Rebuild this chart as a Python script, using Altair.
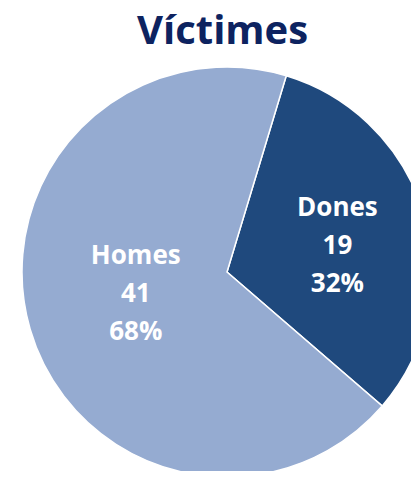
import altair as alt
import pandas as pd
import math

categories = ["Dones", "Homes"]
counts = [19, 41]
percents = ["32%", "68%"]
colors = ["#1f497d", "#95abd1"]

df = pd.DataFrame({
    "cat": categories,
    "n": counts,
    "label": [f"{c}\n{n}\n{p}" for c, n, p in zip(categories, counts, percents)],
})

start = math.radians(16.8)
TOP = 60
W, H = 403, 463 - TOP
cx, cy = 227 - 8, 272 - 8 - TOP

theta_scale = alt.Scale(range=[start, start + 2 * math.pi])

base = alt.Chart(df).encode(
    theta=alt.Theta("n:Q", stack=True, scale=theta_scale),
    order=alt.Order("cat:N"),
)

arcs = base.mark_arc(outerRadius=205, stroke="white", strokeWidth=1.5).encode(
    x=alt.value(cx), y=alt.value(cy),
    color=alt.Color("cat:N", scale=alt.Scale(domain=categories, range=colors), legend=None),
)

label_style = {"Dones": (115, -32), "Homes": (95, -43)}
label_layers = []
for cat in categories:
    r, dy = label_style[cat]
    label_layers.append(
        base.mark_text(
            radius=r, font="Open Sans", fontSize=26, fontWeight="bold",
            color="white", lineBreak="\n", lineHeight=38, align="center",
            baseline="middle", dy=dy,
        ).encode(
            x=alt.value(cx), y=alt.value(cy),
            text="label:N",
            opacity=alt.condition(alt.datum.cat == cat, alt.value(1), alt.value(0)),
        )
    )

chart = alt.layer(arcs, *label_layers).properties(
    width=W, height=H,
    autosize=alt.AutoSizeParams(type="none"),
    padding={"left": 0, "right": 0, "top": TOP, "bottom": 0},
    title=alt.TitleParams("Víctimes", font="Open Sans", fontSize=40, fontWeight="bold",
                          color="#0d2360", anchor="start", frame="group", dx=129,
                          offset=12),
).configure_view(stroke=None)

chart.save("out.html", embed_options={"renderer": "svg", "actions": False})
